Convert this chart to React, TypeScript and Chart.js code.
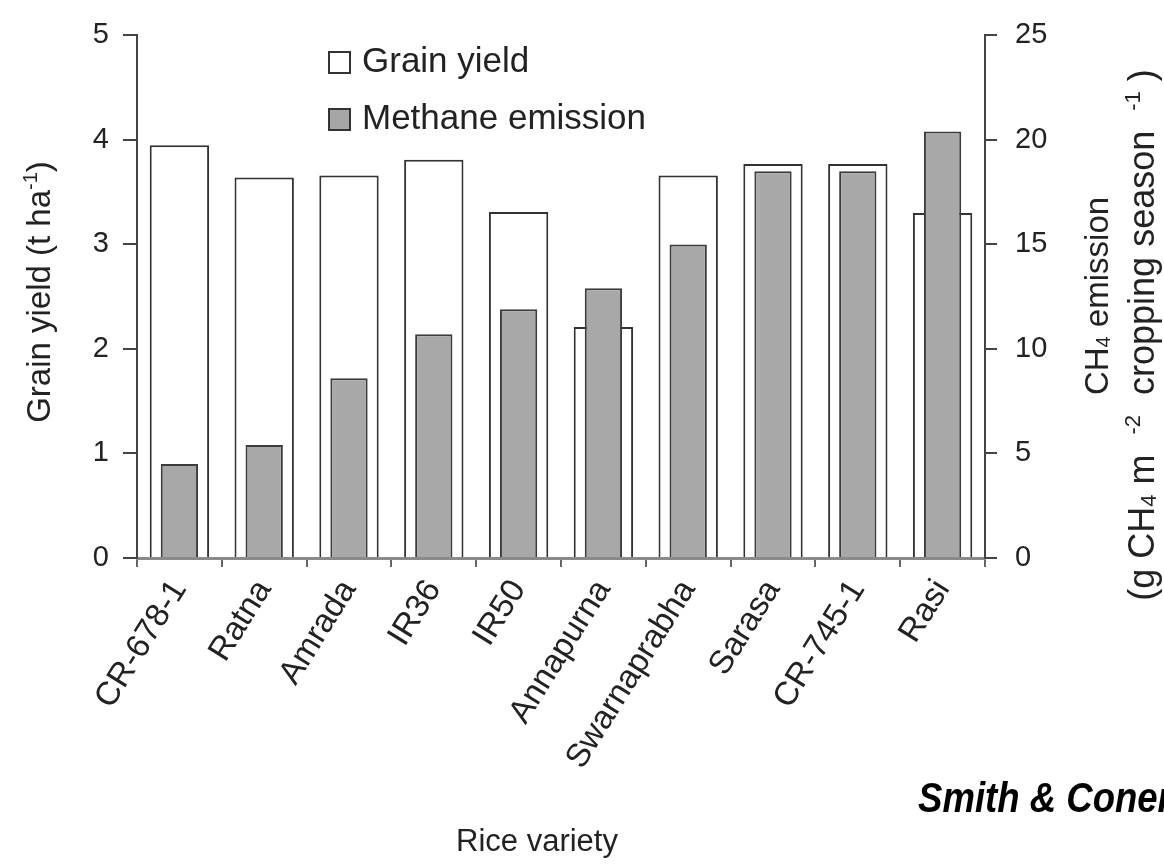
import React, { useEffect, useRef } from "react";
import { Chart, registerables } from "chart.js";

Chart.register(...registerables);

// Rice varieties and their measured values
const varieties = [
  "CR-678-1",
  "Ratna",
  "Amrada",
  "IR36",
  "IR50",
  "Annapurna",
  "Swarnaprabha",
  "Sarasa",
  "CR-745-1",
  "Rasi",
];
const grainYield = [3.95, 3.64, 3.66, 3.81, 3.31, 2.21, 3.66, 3.77, 3.77, 3.3];
const methaneEmission = [4.5, 5.4, 8.6, 10.7, 11.9, 12.9, 15.0, 18.5, 18.5, 20.4];
const yieldTicks = [0, 1, 2, 3, 4, 5];
const emissionTicks = [0, 5, 10, 15, 20, 25];

const FONT = '"Liberation Sans", Arial, Helvetica, sans-serif';
const INK = "#222";

type Piece = { t: string; scale?: number; dy?: number };

// Draws a run of text pieces (with sub/superscripts) centred on the origin
function drawRich(ctx: CanvasRenderingContext2D, pieces: Piece[], size: number) {
  const widths = pieces.map((p) => {
    ctx.font = `${Math.round(size * (p.scale ?? 1))}px ${FONT}`;
    return ctx.measureText(p.t).width;
  });
  const total = widths.reduce((a, b) => a + b, 0);
  let x = -total / 2;
  ctx.textAlign = "left";
  ctx.textBaseline = "alphabetic";
  pieces.forEach((p, i) => {
    ctx.font = `${Math.round(size * (p.scale ?? 1))}px ${FONT}`;
    ctx.fillText(p.t, x, size * 0.36 + (p.dy ?? 0));
    x += widths[i];
  });
}

const annotations = {
  id: "annotations",
  afterDraw(chart: Chart) {
    const ctx = chart.ctx;
    ctx.save();
    ctx.fillStyle = INK;

    // Legend
    const lx = 329;
    const items = [
      { label: "Grain yield", fill: "#ffffff", y: 62 },
      { label: "Methane emission", fill: "#a6a6a6", y: 119 },
    ];
    items.forEach((it) => {
      ctx.fillStyle = it.fill;
      ctx.fillRect(lx, it.y - 10, 21, 21);
      ctx.strokeStyle = "#333";
      ctx.lineWidth = 2;
      ctx.strokeRect(lx, it.y - 10, 21, 21);
      ctx.fillStyle = INK;
      ctx.font = `35px ${FONT}`;
      ctx.textAlign = "left";
      ctx.textBaseline = "middle";
      ctx.fillText(it.label, 362, it.y);
    });

    // Left axis title
    ctx.save();
    ctx.translate(38, 292);
    ctx.rotate(-Math.PI / 2);
    drawRich(
      ctx,
      [{ t: "Grain yield (t ha" }, { t: "-1", scale: 0.6, dy: -13 }, { t: ")" }],
      33
    );
    ctx.restore();

    // Right axis titles
    ctx.save();
    ctx.translate(1096, 296);
    ctx.rotate(-Math.PI / 2);
    drawRich(
      ctx,
      [{ t: "CH" }, { t: "4", scale: 0.62, dy: 2 }, { t: " emission" }],
      33
    );
    ctx.restore();

    ctx.save();
    ctx.translate(1141, 335);
    ctx.rotate(-Math.PI / 2);
    drawRich(
      ctx,
      [
        { t: "(g CH" },
        { t: "4", scale: 0.62, dy: 2 },
        { t: " m  " },
        { t: "-2", scale: 0.6, dy: -14 },
        { t: "  cropping season  " },
        { t: "-1", scale: 0.6, dy: -14 },
        { t: " )" },
      ],
      36
    );
    ctx.restore();

    // X axis title
    ctx.fillStyle = INK;
    ctx.font = `31px ${FONT}`;
    ctx.textAlign = "center";
    ctx.textBaseline = "middle";
    ctx.fillText("Rice variety", 537, 842);

    // Source credit
    ctx.save();
    ctx.translate(918, 800);
    ctx.scale(0.85, 1);
    ctx.fillStyle = "#000";
    ctx.font = `italic bold 43px ${FONT}`;
    ctx.textAlign = "left";
    ctx.textBaseline = "middle";
    ctx.fillText("Smith & Conen", 0, 0);
    ctx.restore();

    ctx.restore();
  },
};

export default function App() {
  const canvasRef = useRef<HTMLCanvasElement | null>(null);

  useEffect(() => {
    const canvas = canvasRef.current;
    if (!canvas) return;

    const chart = new Chart(canvas, {
      type: "bar",
      data: {
        labels: varieties,
        datasets: [
          {
            label: "Grain yield",
            data: grainYield,
            yAxisID: "y",
            backgroundColor: "#ffffff",
            borderColor: "#333333",
            borderWidth: 2,
            barPercentage: 0.7,
            categoryPercentage: 1,
            grouped: false,
            order: 2,
          },
          {
            label: "Methane emission",
            data: methaneEmission,
            yAxisID: "y2",
            backgroundColor: "#a8a8a8",
            borderColor: "#3c3c3c",
            borderWidth: 2,
            barPercentage: 0.44,
            categoryPercentage: 1,
            grouped: false,
            order: 1,
          },
        ],
      },
      options: {
        responsive: false,
        maintainAspectRatio: false,
        animation: false,
        devicePixelRatio: 1,
        layout: { padding: { top: 27, left: 0, right: 0, bottom: 0 }, autoPadding: false },
        plugins: {
          legend: { display: false },
          tooltip: { enabled: false },
        },
        scales: {
          x: {
            type: "category",
            offset: true,
            grid: {
              offset: true,
              drawOnChartArea: false,
              drawTicks: true,
              tickLength: 9,
              color: "#666",
              lineWidth: 2,
            },
            border: { display: true, color: "#8a8a8a", width: 3 },
            ticks: {
              autoSkip: false,
              maxRotation: 58,
              minRotation: 58,
              padding: 6,
              color: INK,
              font: { family: FONT, size: 33 },
            },
            afterFit: (s: any) => {
              s.height = 867 - 558;
            },
          },
          y: {
            position: "left",
            min: 0,
            max: 5,
            afterBuildTicks: (s: any) => {
              s.ticks = yieldTicks.map((v) => ({ value: v }));
            },
            grid: {
              drawOnChartArea: false,
              drawTicks: true,
              tickLength: 14,
              color: "#444",
              lineWidth: 2,
            },
            border: { display: true, color: "#444", width: 2 },
            ticks: {
              padding: 14,
              color: INK,
              font: { family: FONT, size: 29 },
            },
            afterFit: (s: any) => {
              s.width = 137;
            },
          },
          y2: {
            position: "right",
            min: 0,
            max: 25,
            afterBuildTicks: (s: any) => {
              s.ticks = emissionTicks.map((v) => ({ value: v }));
            },
            grid: {
              drawOnChartArea: false,
              drawTicks: true,
              tickLength: 12,
              color: "#444",
              lineWidth: 2,
            },
            border: { display: true, color: "#444", width: 2 },
            ticks: {
              padding: 18,
              color: INK,
              font: { family: FONT, size: 29 },
            },
            afterFit: (s: any) => {
              s.width = 1164 - 985;
            },
          },
        },
      },
      plugins: [annotations],
    });

    return () => chart.destroy();
  }, []);

  return (
    <div
      style={{
        position: "fixed",
        left: 0,
        top: 0,
        width: 1164,
        height: 867,
        background: "#fff",
      }}
    >
      <canvas ref={canvasRef} width={1164} height={867} style={{ display: "block" }} />
    </div>
  );
}
